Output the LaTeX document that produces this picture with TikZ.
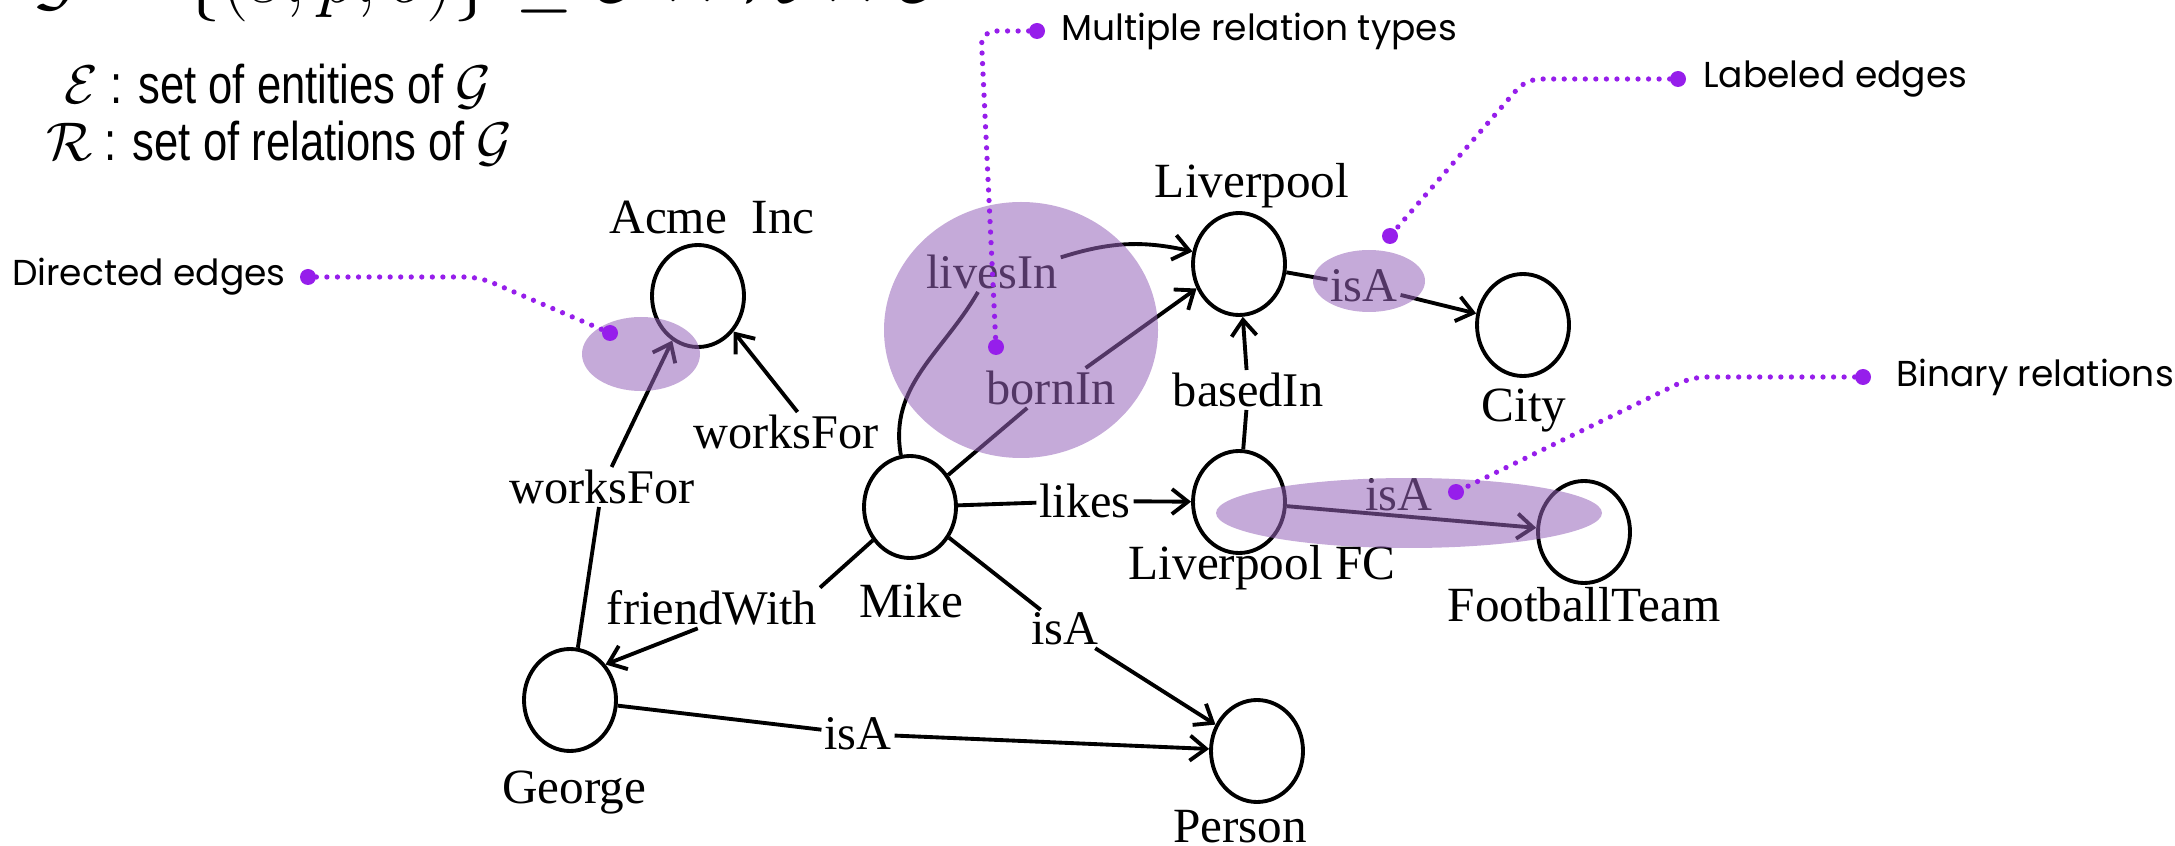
\RequirePackage{fix-cm}
\documentclass[tikz,border=0pt]{standalone}
\usepackage{amsmath}
\usepackage{amssymb}
\usepackage{fontspec}
\setmainfont{Liberation Serif}
\newfontfamily\notefont{Poppins}
\newfontfamily\headfont[FakeStretch=0.8]{Liberation Sans}
\usepackage{tikz}
\usetikzlibrary{arrows.meta, shapes.geometric}
\usepackage{xcolor}

\definecolor{blob}{RGB}{150,100,185}
\definecolor{callout}{RGB}{150,30,235}

\tikzset{
  entity/.style = {draw, ellipse, line width=2.2pt, minimum width=18.4mm, minimum height=20.4mm, inner sep=0pt},
  enttext/.style = {font=\fontsize{28}{30}\selectfont, inner sep=0pt},
  reltext/.style = {font=\fontsize{27.5}{30}\selectfont, inner sep=1.5pt},
  link/.style = {line width=2.2pt},
  linkto/.style = {line width=2.2pt, -{Straight Barb[length=3.2mm, width=5mm]}},
  highlight/.style = {fill=blob, fill opacity=0.55},
  pointer/.style = {draw=callout, line width=3pt, line cap=round, dash pattern=on 0pt off 6pt, rounded corners=8pt},
  calldot/.style = {circle, fill=callout, inner sep=0pt, minimum size=3.2mm},
  notetext/.style = {font=\notefont\fontsize{20.5}{24}\selectfont},
  headtext/.style = {font=\headfont\fontsize{31}{34}\selectfont, inner sep=0pt}
}

\begin{document}
\begin{tikzpicture}[x=0.2mm, y=-0.2mm]
  \useasboundingbox (0,0) rectangle (2175,846);
  \clip (0,0) rectangle (2175,846);

  % definitions, top line runs off the edge
  \node[headtext, font=\fontsize{44}{48}\selectfont, anchor=base west] (gdef) at (33,3) {$\mathcal{G} = \{(s,p,o)\} \subseteq \mathcal{E} \times \mathcal{R} \times \mathcal{E}$};
  \node[headtext, anchor=west] (edef) at (64,86) {$\mathcal{E}$ : set of entities of $\mathcal{G}$};
  \node[headtext, anchor=west] (rdef) at (46,143) {$\mathcal{R}$ : set of relations of $\mathcal{G}$};

  % entities
  \node[entity] (acme) at (698,296) {};
  \node[entity] (liverpool) at (1239,264) {};
  \node[entity] (city) at (1523,325) {};
  \node[entity] (lfc) at (1239,502) {};
  \node[entity] (team) at (1584,532) {};
  \node[entity] (mike) at (910,507) {};
  \node[entity] (george) at (570,700) {};
  \node[entity] (person) at (1257,751) {};

  \node[enttext] (acmename) at (712,218) {Acme\enspace Inc};
  \node[enttext] (liverpoolname) at (1252,186) {Liverpool};
  \node[enttext] (cityname) at (1524,411) {City};
  \node[enttext] (lfcname) at (1262,568) {Liverpool FC};
  \node[enttext] (teamname) at (1584,605) {FootballTeam};
  \node[enttext] (mikename) at (911,601) {Mike};
  \node[enttext] (georgename) at (574,793) {George};
  \node[enttext] (personname) at (1240,827) {Person};

  % relations
  \node[reltext] (livesin) at (992,272) {livesIn};
  \node[reltext] (bornin) at (1051,388) {bornIn};
  \node[reltext] (basedin) at (1248,390) {basedIn};
  \node[reltext] (cityisa) at (1364,286) {isA};
  \node[reltext] (likes) at (1085,501) {likes};
  \node[reltext] (worksmike) at (786,432) {worksFor};
  \node[reltext] (worksgeorge) at (602,487) {worksFor};
  \node[reltext] (friend) at (712,608) {friendWith};
  \node[reltext] (mikeisa) at (1065,629) {isA};
  \node[reltext] (georgeisa) at (858,734) {isA};

  \draw[link] (mike.100) to[out=100, in=-120] (livesin.-125);
  \draw[linkto] (livesin.12) to[bend left=15] (liverpool.165);
  \draw[link] (mike.40) -- (bornin.-140);
  \draw[linkto] (bornin.30) -- (liverpool.210);
  \draw[link] (lfc) -- (basedin);
  \draw[linkto] (basedin) -- (liverpool);
  \draw[link] (liverpool) -- (cityisa);
  \draw[linkto] (cityisa) -- (city);
  \draw[link] (mike) -- (likes);
  \draw[linkto] (likes) -- (lfc);
  \draw[linkto] (worksmike.60) -- (acme.-45);
  \draw[link] (george) -- (worksgeorge);
  \draw[linkto] (worksgeorge) -- (acme.240);
  \draw[link] (mike) -- (friend.north east);
  \draw[linkto] (friend.-125) -- (george.45);
  \draw[link] (mike) -- (mikeisa);
  \draw[linkto] (mikeisa) -- (person);
  \draw[link] (george) -- (georgeisa);
  \draw[linkto] (georgeisa) -- (person);
  \draw[linkto] (lfc) -- node[reltext, above, pos=0.45] (teamisa) {isA} (team);

  % shaded areas
  \fill[highlight] (641,354) ellipse [x radius=59, y radius=37];
  \fill[highlight] (1021,330) ellipse [x radius=137, y radius=128];
  \fill[highlight] (1369,281) ellipse [x radius=56, y radius=31];
  \fill[highlight] (1409,513) ellipse [x radius=193, y radius=35];

  % callouts
  \node[notetext, anchor=east] (directed) at (292,277) {Directed edges};
  \node[calldot] (directedA) at (308,277) {};
  \node[calldot] (directedB) at (610,333) {};
  \coordinate (directedbend) at (479,277);
  \draw[pointer] (directedA) -- (directedbend) -- (directedB);

  \node[notetext, anchor=west] (multiple) at (1055,31) {Multiple relation types};
  \node[calldot] (multipleA) at (1037,31) {};
  \node[calldot] (multipleB) at (996,347) {};
  \coordinate (multiplebend) at (981,31);
  \draw[pointer] (multipleA) -- (multiplebend) -- (multipleB);

  \node[notetext, anchor=west] (labeled) at (1697,79) {Labeled edges};
  \node[calldot] (labeledA) at (1678,79) {};
  \node[calldot] (labeledB) at (1390,236) {};
  \coordinate (labeledbend) at (1526,79);
  \draw[pointer] (labeledA) -- (labeledbend) -- (labeledB);

  \node[notetext, anchor=west] (binary) at (1890,377) {Binary relations};
  \node[calldot] (binaryA) at (1863,377) {};
  \node[calldot] (binaryB) at (1456,492) {};
  \coordinate (binarybend) at (1692,377);
  \draw[pointer] (binaryA) -- (binarybend) -- (binaryB);
\end{tikzpicture}
\end{document}
